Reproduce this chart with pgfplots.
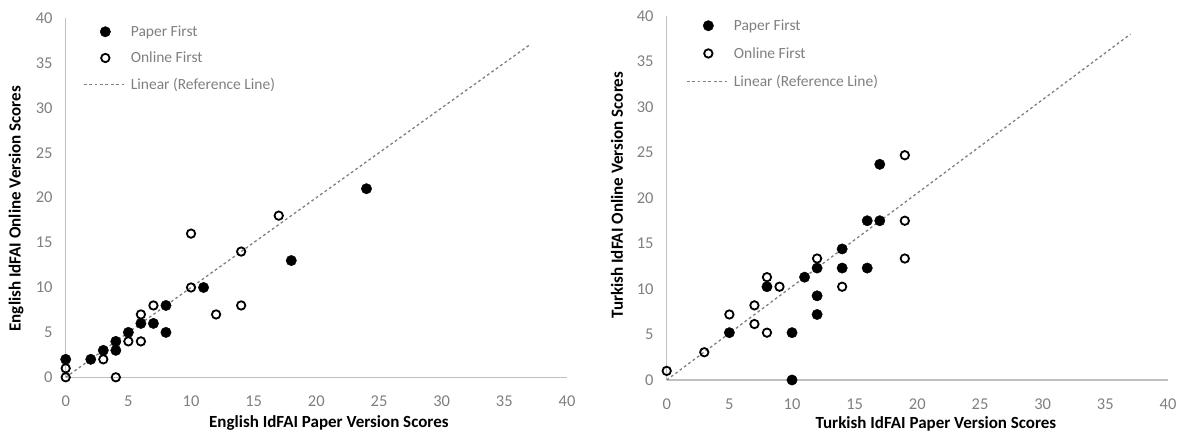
\documentclass[border=0pt]{standalone}
\usepackage{fontspec}
\setmainfont{Carlito}
\usepackage{pgfplots}
\pgfplotsset{compat=1.18}
\definecolor{tickgray}{HTML}{7F7F7F}
\definecolor{axgray}{HTML}{BFBFBF}
\definecolor{refgray}{HTML}{7F7F7F}
\pgfplotsset{
 myaxis/.style={
  scale only axis, width=501.3pt, xmin=0,xmax=40,ymin=0,ymax=40,
  xtick={0,5,...,40}, ytick={0,5,...,40},
  axis x line=bottom, axis y line=left,
  axis line style={axgray, line width=1.4pt, -},
  major tick length=0pt,
  tick style={draw=none},
  /pgf/number format/assume math mode=true,
  tick label style={font=\fontsize{16.5}{19}\selectfont, text=tickgray},
  xticklabel style={anchor=base, yshift=-29.5pt, inner sep=0pt},
  yticklabel style={anchor=east, xshift=-13pt, inner sep=0pt},
  label style={font=\bfseries\fontsize{17}{20}\selectfont, text=black},
  clip=false,
  legend style={draw=none, fill=none, font=\fontsize{15.5}{18}\selectfont, text=tickgray, anchor=north west, inner sep=0pt, nodes={inner sep=2pt}},
  legend cell align=left,
 },
 filledpts/.style={only marks, mark=*, mark size=5.2pt, mark options={fill=black, draw=black},
   legend image code/.code={\path[draw=none,fill=none] (0pt,-5pt) rectangle (45pt,5pt); \fill[black] (21.5pt,0pt) circle (5.2pt);}},
 openpts/.style={only marks, mark=o, mark size=4.2pt, mark options={draw=black, line width=1.8pt, fill=white},
   legend image code/.code={\path[draw=none,fill=none] (0pt,-5pt) rectangle (45pt,5pt); \draw[black, fill=white, line width=1.8pt] (21.5pt,0pt) circle (4.2pt);}},
 refline/.style={no marks, refgray, line width=1.3pt, dash pattern=on 2.7pt off 2.7pt,
   legend image code/.code={\path[draw=none,fill=none] (0pt,-5pt) rectangle (45pt,5pt); \draw[refgray, line width=1.3pt, dash pattern=on 2.7pt off 2.7pt] (0pt,0pt) -- (43pt,0pt);}},
}
\begin{document}
\begin{tikzpicture}
\useasboundingbox (0,0) rectangle (1186pt,435pt);
\begin{axis}[myaxis, at={(65.7pt,57.7pt)}, anchor=south west, height=359.2pt,
  xlabel={English IdFAI Paper Version Scores},
  ylabel={English IdFAI Online Version Scores},
  xlabel style={at={(axis description cs:0.525,0)}, anchor=base, yshift=-50.7pt},
  ylabel style={at={(axis description cs:-0.099,0.469)}, anchor=center},
  legend style={at={(axis description cs:0.0345,0.985)}, row sep=10pt}]
\addplot[filledpts] coordinates {(0,2) (2,2) (3,3) (4,4) (4,3) (5,5) (6,6) (7,6) (8,8) (8,5) (11,10) (18,13) (24,21)};
\addlegendentry{Paper First}
\addplot[openpts] coordinates {(0,0) (0,1) (3,2) (4,0) (5,4) (6,4) (6,7) (7,8) (10,16) (10,10) (12,7) (14,14) (14,8) (17,18)};
\addlegendentry{Online First}
\addplot[refline] coordinates {(0,0) (37,37)};
\addlegendentry{Linear (Reference Line)}
\end{axis}
\begin{axis}[myaxis, at={(666.7pt,55pt)}, anchor=south west, height=364pt,
  xlabel={Turkish IdFAI Paper Version Scores},
  ylabel={Turkish IdFAI Online Version Scores},
  xlabel style={at={(axis description cs:0.537,0)}, anchor=base, yshift=-49pt},
  ylabel style={at={(axis description cs:-0.099,0.508)}, anchor=center},
  legend style={at={(axis description cs:0.0385,0.996)}, row sep=11.5pt}]
\addplot[filledpts] coordinates {(5,5.2) (8,10.25) (10,0) (10,5.2) (11,11.3) (12,12.3) (12,9.25) (12,7.2) (14,14.4) (14,12.3) (16,12.3) (16,17.5) (17,17.5) (17,23.7)};
\addlegendentry{Paper First}
\addplot[openpts] coordinates {(0,1) (3,3.05) (5,7.2) (7,8.2) (7,6.15) (8,5.2) (8,11.3) (9,10.25) (12,13.35) (14,10.25) (19,24.7) (19,17.5) (19,13.35)};
\addlegendentry{Online First}
\addplot[refline] coordinates {(0,0) (37,38)};
\addlegendentry{Linear (Reference Line)}
\end{axis}
\end{tikzpicture}
\end{document}
